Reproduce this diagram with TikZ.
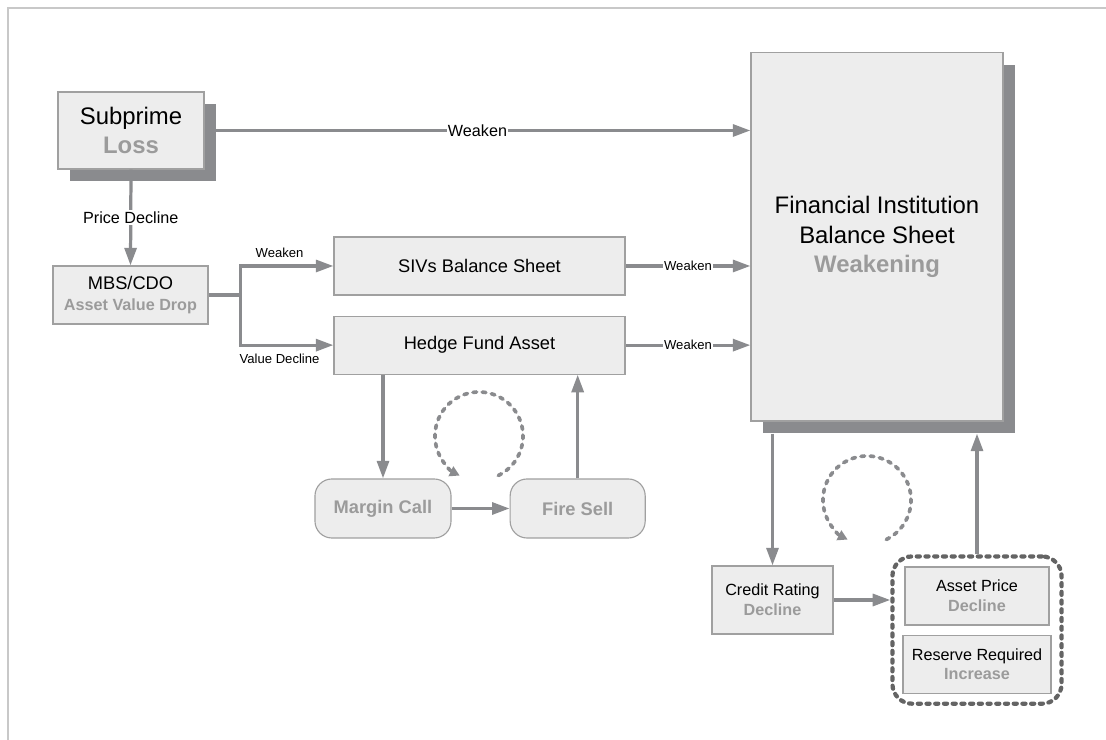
\documentclass[tikz,border=0pt]{standalone}
\usepackage{fontspec}
\setmainfont{Liberation Sans}
\usepackage{tikz}
\usetikzlibrary{arrows.meta, positioning, fit, shadows}
\usepackage{xcolor}
\definecolor{boxFill}{RGB}{237,237,237}
\definecolor{boxLine}{RGB}{160,160,160}
\definecolor{shadowGray}{RGB}{138,139,142}
\definecolor{arrowGray}{RGB}{138,139,142}
\definecolor{textGray}{RGB}{155,155,155}
\definecolor{groupLine}{RGB}{100,100,100}
\definecolor{frameGray}{RGB}{200,200,200}
\newcommand{\graytxt}[1]{{\color{textGray}\bfseries #1}}

\begin{document}
\begin{tikzpicture}[x=0.025cm, y=0.025cm,
    box/.style={rectangle, draw=boxLine, line width=0.8pt, fill=boxFill, align=center, inner sep=0pt},
    shadowed/.style={drop shadow={shadow xshift=0.3cm, shadow yshift=-0.3cm, opacity=1, fill=shadowGray}},
    roundbox/.style={box, rounded corners=12pt, font=\fontsize{13}{15}\selectfont\bfseries\color{textGray}},
    flow/.style={draw=arrowGray, line width=2.3pt, -{Triangle[length=12.5pt, width=8.5pt]}},
    cyc/.style={draw=arrowGray, line width=2.6pt, dash pattern=on 2.6pt off 4pt, line cap=round, -{Triangle[length=7pt, width=7.5pt]}},
    lbl/.style={fill=white, inner sep=1pt, font=\fontsize{11.5}{14}\selectfont},
    lblsmall/.style={inner sep=0pt, font=\fontsize{9.3}{11}\selectfont},
    groupbox/.style={draw=groupLine, line width=3pt, dash pattern=on 2.2pt off 4pt, line cap=round, rounded corners=14pt, inner sep=0.25cm}
]
\useasboundingbox (0,0) rectangle (1106,740);
\draw[frameGray, line width=1.4pt] (8,0) -- (8,732) -- (1106,732);

% top row
\node[box, shadowed, minimum width=3.65cm, minimum height=1.925cm, font=\fontsize{17}{21}\selectfont] (sub) at (131,609.5) {Subprime\\\graytxt{Loss}};
\node[box, shadowed, minimum width=6.3cm, minimum height=9.2cm, font=\fontsize{17}{21}\selectfont] (fi) at (877,503) {Financial Institution\\Balance Sheet\\\graytxt{Weakening}};

% middle
\node[box, minimum width=3.875cm, minimum height=1.45cm, font=\fontsize{13}{15}\selectfont] (mbs) at (130.5,445) {MBS/CDO\\{\fontsize{11.5}{14}\selectfont\graytxt{Asset Value Drop}}};
\node[box, minimum width=7.275cm, minimum height=1.45cm, font=\fontsize{13}{15}\selectfont] (siv) at (479.5,474) {SIVs Balance Sheet};
\node[box, minimum width=7.275cm, minimum height=1.45cm, font=\fontsize{13}{15}\selectfont, below=0.5cm of siv] (hedge) {Hedge Fund Asset};

% fund loop
\node[roundbox, minimum width=3.4cm, minimum height=1.475cm] (margin) at (383,231.5) {Margin Call};
\node[roundbox, minimum width=3.375cm, minimum height=1.475cm, right=1.45cm of margin] (fire) {Fire Sell};

% bank loop
\node[box, minimum width=3.025cm, minimum height=1.7cm, font=\fontsize{11.5}{14}\selectfont] (credit) at (772.5,140) {Credit Rating\\\graytxt{Decline}};
\node[box, minimum width=3.6cm, minimum height=1.45cm, font=\fontsize{11.5}{14}\selectfont] (asset) at (977,144) {Asset Price\\\graytxt{Decline}};
\node[box, minimum width=3.7cm, minimum height=1.45cm, font=\fontsize{11.5}{14}\selectfont, below=0.225cm of asset] (reserve) {Reserve Required\\\graytxt{Increase}};
\node[groupbox, fit=(asset)(reserve)] (grp) {};

\coordinate (loopA) at (479,304);
\coordinate (loopB) at (867,240);

% connectors
\draw[flow] (sub.east) -- node[lbl, inner sep=0.5pt] {Weaken} (sub.east -| fi.west);
\draw[flow] (sub.south) -- node[lbl] {Price Decline} (mbs.north);
\draw[arrowGray, line width=2.3pt] (mbs.east) -- ++(32,0) coordinate (split);
\draw[flow] (split) |- node[lblsmall, above=5pt, pos=0.71] {Weaken} (siv.west);
\draw[flow] (split) |- node[lblsmall, below=5pt, pos=0.71] {Value Decline} (hedge.west);
\draw[flow] (siv.east) -- node[lbl, lblsmall, fill=white, inner sep=1pt] {Weaken} (siv.east -| fi.west);
\draw[flow] (hedge.east) -- node[lbl, lblsmall, fill=white, inner sep=1pt] {Weaken} (hedge.east -| fi.west);

\draw[flow] (margin.north |- hedge.south) -- (margin.north);
\draw[flow] (margin.east) -- (fire.west);
\draw[flow] (fire.north) -- (fire.north |- hedge.south);

\draw[flow] ([yshift=-0.3cm]fi.south -| credit.north) -- (credit.north);
\draw[flow] (credit.east) -- (credit.east -| grp.west);
\draw[flow] (grp.north) -- ([yshift=-0.3cm]fi.south -| grp.north);

\draw[cyc] ([shift={(-64:1.1cm)}]loopA) arc[start angle=-64, end angle=244, radius=1.1cm];
\draw[cyc] ([shift={(-64:1.1cm)}]loopB) arc[start angle=-64, end angle=244, radius=1.1cm];
\end{tikzpicture}
\end{document}
